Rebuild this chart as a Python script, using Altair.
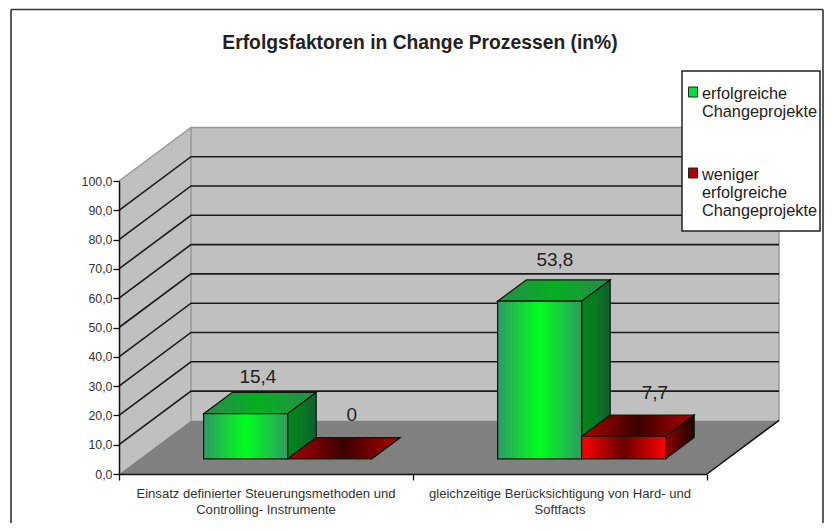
import altair as alt
import pandas as pd

TITLE = "Erfolgsfaktoren in Change Prozessen (in%)"
CATEGORIES = ["Einsatz definierter Steuerungsmethoden und\nControlling- Instrumente",
              "gleichzeitige Berücksichtigung von Hard- und\nSoftfacts"]
SERIES_NAMES = ["erfolgreiche\nChangeprojekte", "weniger\nerfolgreiche\nChangeprojekte"]
VALUES_SUCCESS = [15.4, 53.8]
VALUES_LESS = [0.0, 7.7]
LABELS_SUCCESS = ["15,4", "53,8"]
LABELS_LESS = ["0", "7,7"]
Y_TICKS = [0, 10, 20, 30, 40, 50, 60, 70, 80, 90, 100]

# 3D projection of (category position, value, depth) onto the plane of the scales
DEPTH_X = 72 / 294
DEPTH_Y = 18.3
BAR_W = 0.2857
GAP = 0.2185
D0, D1 = 0.283, 0.68

def px(c, d): return c + DEPTH_X * d
def py(v, d): return v + DEPTH_Y * d

XS = alt.Scale(domain=[0, 2], nice=False, zero=False)
YS = alt.Scale(domain=[0, 100], nice=False, zero=False)
X_AXIS = alt.Axis(values=[0, 1, 2], labels=False, domainColor="#111111", domainWidth=1.5,
                  tickColor="#111111", tickSize=6, tickWidth=1.3, grid=False, zindex=1, title=None)
Y_AXIS = alt.Axis(values=Y_TICKS, labelExpr="replace(format(datum.value,'.1f'),'.',',')",
                  labelFont="Liberation Sans", labelFontSize=12.4, labelColor="#333333", labelPadding=1,
                  domainColor="#111111", domainWidth=1.5, tickColor="#111111", tickSize=6, tickWidth=1.3,
                  grid=False, zindex=1, title=None)
X = alt.X("x:Q", scale=XS, axis=X_AXIS)
Y = alt.Y("y:Q", scale=YS, axis=Y_AXIS)

def grad(stops):
    return alt.LinearGradient(gradient="linear", x1=0, x2=1, y1=0, y2=0,
        stops=[alt.GradientStop(color=c, offset=o) for o, c in stops])

def vface(points, **style):
    """Face with vertical edges: points = (x, low, high)."""
    df = pd.DataFrame([{"x": a, "y": b, "y2": c} for a, b, c in points])
    return alt.Chart(df).mark_area(orient="vertical", clip=False, **style).encode(x=X, y=Y, y2="y2:Q")

def hface(points, **style):
    """Face with horizontal edges: points = (y, left, right)."""
    df = pd.DataFrame([{"y": a, "x": b, "x2": c} for a, b, c in points])
    return alt.Chart(df).mark_area(orient="horizontal", clip=False, **style).encode(y=Y, x=X, x2="x2:Q")

def line(points, color, width):
    df = pd.DataFrame([{"x": a, "y": b, "o": i} for i, (a, b) in enumerate(points)])
    return alt.Chart(df).mark_line(color=color, strokeWidth=width, clip=False).encode(
        x=X, y=Y, order="o:Q")

def bar3d(c0, v, front, top, side):
    c1 = c0 + BAR_W
    st = dict(stroke="#0a1a0a", strokeWidth=1.2)
    out = [
        hface([(py(v, D0), px(c0, D0), px(c1, D0)), (py(v, D1), px(c0, D1), px(c1, D1))], fill=grad(top), **st),
        vface([(px(c1, D0), py(0, D0), py(v, D0)), (px(c1, D1), py(0, D1), py(v, D1))], fill=grad(side), **st),
    ]
    if v > 0:
        out.append(vface([(px(c0, D0), py(0, D0), py(v, D0)), (px(c1, D0), py(0, D0), py(v, D0))], fill=grad(front), **st))
    return out

GREEN_FRONT = [(0, "#2f9a62"), (0.5, "#00ff1e"), (1, "#2f9a62")]
GREEN_TOP = [(0, "#2a8a4e"), (0.5, "#04b01e"), (1, "#2a8a4e")]
GREEN_SIDE = [(0, "#07841c"), (0.5, "#067a20"), (1, "#135c34")]
RED_FRONT = [(0, "#ff0000"), (0.5, "#6a0000"), (1, "#ff0000")]
RED_TOP = [(0, "#b00000"), (0.5, "#3c0000"), (1, "#b00000")]
RED_SIDE = [(0, "#900000"), (1, "#1e0000")]

layers = []

# walls and floor
WALL = "#c0c0c0"
EDGE = "#999999"
layers.append(vface([(px(0, 0), py(0, 0), py(100, 0)), (px(0, 1), py(0, 1), py(100, 1))], fill=WALL))
layers.append(vface([(px(0, 1), py(0, 1), py(100, 1)), (px(2, 1), py(0, 1), py(100, 1))], fill=WALL))
layers.append(hface([(py(0, 0), px(0, 0), px(2, 0)), (py(0, 1), px(0, 1), px(2, 1))], fill="#808080"))
layers.append(line([(px(0, 0), py(100, 0)), (px(0, 1), py(100, 1)), (px(2, 1), py(100, 1)), (px(2, 1), py(0, 1))], EDGE, 1.5))
layers.append(line([(px(0, 1), py(100, 1)), (px(0, 1), py(0, 1))], EDGE, 1.5))
layers.append(line([(px(2, 0), py(0, 0)), (px(2, 1), py(0, 1))], "#111111", 1.5))
for t in Y_TICKS[1:-1]:
    layers.append(line([(px(0, 0), py(t, 0)), (px(0, 1), py(t, 1)), (px(2, 1), py(t, 1))], "#1a1a1a", 1.6))

# bars
for i in range(2):
    layers += bar3d(i + GAP, VALUES_SUCCESS[i], GREEN_FRONT, GREEN_TOP, GREEN_SIDE)
    layers += bar3d(i + GAP + BAR_W, VALUES_LESS[i], RED_FRONT, RED_TOP, RED_SIDE)

# value labels, nudged like the hand-placed originals
def value_label(text, c0, v, dx, dy):
    c = c0 + BAR_W / 2
    df = pd.DataFrame([{"x": px(c, (D0 + D1) / 2), "y": py(v, (D0 + D1) / 2), "t": text}])
    return alt.Chart(df).mark_text(font="Liberation Sans", fontSize=19, color="#222222",
        baseline="middle", align="center", dx=dx, dy=dy, clip=False).encode(x=X, y=Y, text="t:N")

NUDGES = [(-2, -26), (8, -33), (1, -31), (17, -33)]
vals = [(LABELS_SUCCESS[0], 0 + GAP, VALUES_SUCCESS[0]), (LABELS_LESS[0], 0 + GAP + BAR_W, VALUES_LESS[0]),
        (LABELS_SUCCESS[1], 1 + GAP, VALUES_SUCCESS[1]), (LABELS_LESS[1], 1 + GAP + BAR_W, VALUES_LESS[1])]
for (t, c, v), (dx, dy) in zip(vals, NUDGES):
    layers.append(value_label(t, c, v, dx, dy))

# category labels
cat_df = pd.DataFrame({"x": [0.5, 1.5], "t": CATEGORIES})
layers.append(alt.Chart(cat_df).mark_text(font="Liberation Sans", fontSize=13.1, color="#333333",
    baseline="top", align="center", lineBreak="\n", lineHeight=16, clip=False).encode(
    x=X, y=alt.value(307), text="t:N"))

# outer frame (open at the bottom: it continues past the picture)
def rule(x, x2, y, y2, color="#333333", width=1.6):
    return alt.Chart(pd.DataFrame({"a": [0]})).mark_rule(color=color, strokeWidth=width, clip=False).encode(
        x=alt.value(x), x2=alt.value(x2), y=alt.value(y), y2=alt.value(y2))

layers.append(rule(-108, 704, -171.5, -171.5))
layers.append(rule(-108, -108, -171.5, 350))
layers.append(rule(704, 704, -171.5, 350))

# legend box
layers.append(alt.Chart(pd.DataFrame({"a": [0]})).mark_rect(fill="white", stroke="#222222", strokeWidth=1.5, clip=False).encode(
    x=alt.value(563), x2=alt.value(701), y=alt.value(-110), y2=alt.value(50)))
for (name, color, top) in zip(SERIES_NAMES, ["#00e040", "#b00000"], [-94, -13]):
    layers.append(alt.Chart(pd.DataFrame({"a": [0]})).mark_rect(fill=color, stroke="#222222", strokeWidth=1, clip=False).encode(
        x=alt.value(569.5), x2=alt.value(578.5), y=alt.value(top), y2=alt.value(top + 10)))
    layers.append(alt.Chart(pd.DataFrame({"t": [name]})).mark_text(
        font="Liberation Sans", fontSize=16.3, color="#222222", align="left", baseline="top",
        lineBreak="\n", lineHeight=18, clip=False).encode(
        x=alt.value(583), y=alt.value(top - 1), text="t:N"))

chart = alt.layer(*layers).properties(
    width=588, height=293,
    padding={"left": 111, "top": 173, "right": 117, "bottom": 49},
    autosize=alt.AutoSizeParams(type="none"),
    title=alt.TitleParams(TITLE, anchor="middle", frame="group", dx=7, offset=-60, baseline="alphabetic",
                          font="Liberation Sans", fontSize=19.3, fontWeight="bold", color="#222222"),
).configure_view(stroke=None).configure(background="white")

chart.save("out.html", embed_options={"renderer": "svg", "actions": False})
